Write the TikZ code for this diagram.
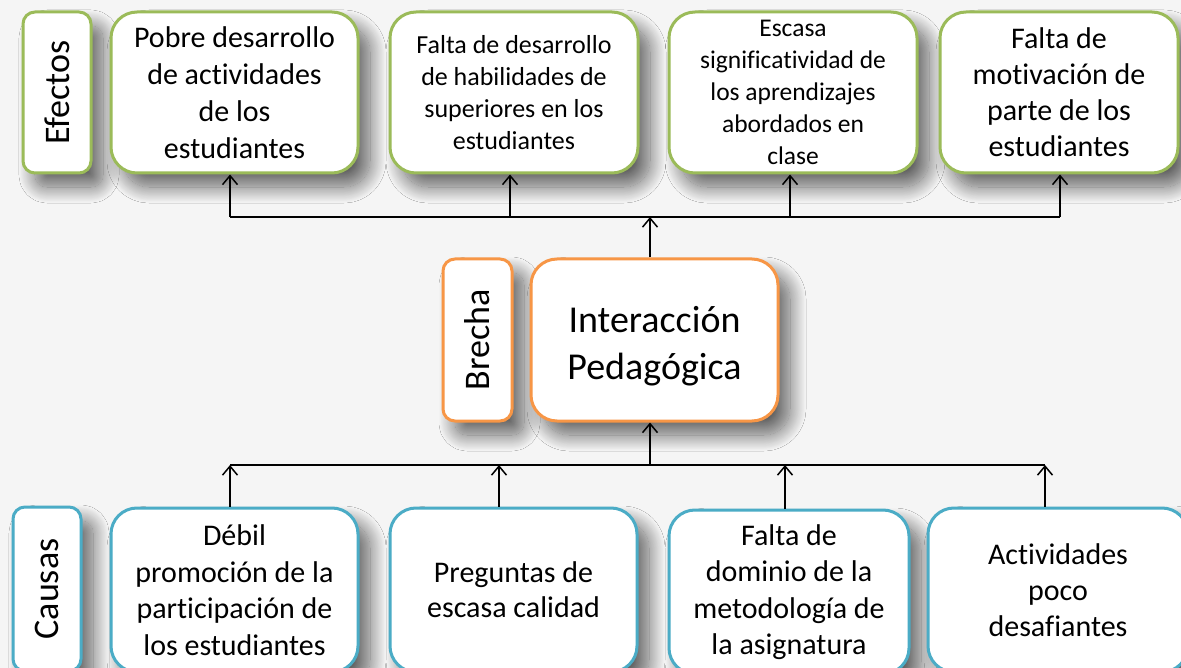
\documentclass[tikz,border=0pt]{standalone}
\usepackage{fontspec}
\setmainfont{Carlito}[Ligatures=NoCommon]
\usetikzlibrary{arrows.meta,shadows.blur}
\definecolor{efgreen}{HTML}{9BBB59}
\definecolor{brorange}{HTML}{F79646}
\definecolor{cablue}{HTML}{4BACC6}
\definecolor{bgray}{HTML}{F5F5F5}
\tikzset{
  box/.style={draw, line width=3pt, fill=white, rounded corners=26pt, align=center,
    inner sep=2pt, minimum width=247pt, minimum height=161pt,
    blur shadow={shadow xshift=12pt, shadow yshift=-14pt, shadow blur radius=16pt,
      shadow blur steps=24, shadow opacity=60}},
  tag/.style={box, rounded corners=12pt, minimum width=68pt, minimum height=161pt,
    font=\fontsize{36}{40}\selectfont},
  effect/.style={box, draw=efgreen},
  cause/.style={box, draw=cablue, minimum height=164pt},
  gap/.style={box, draw=brorange},
  conn/.style={line width=1.5pt, black},
  arr/.style={conn, -{Straight Barb[length=9pt, width=15pt, line width=1.5pt]}},
}
\begin{document}
\begin{tikzpicture}[x=1pt,y=-1pt]
\useasboundingbox (0,0) rectangle (1181,668);
\fill[bgray] (0,0) rectangle (1181,668);
\clip (0,0) rectangle (1181,668);
% Effects
\node[tag, draw=efgreen] (efectos) at (57,92.5) {\rotatebox{90}{Efectos}};
\node[effect, font=\fontsize{30}{37}\selectfont] (e1) at (234.5,92.5)
  {Pobre desarrollo\\de actividades\\de los\\estudiantes};
\node[effect, minimum width=248pt, font=\fontsize{26}{32}\selectfont] (e2) at (514,92.5)
  {Falta de desarrollo\\de habilidades de\\superiores en los\\estudiantes};
\node[effect, minimum width=248pt, font=\fontsize{25.5}{32}\selectfont] (e3) at (793,92.5)
  {Escasa\\significatividad de\\los aprendizajes\\abordados en\\clase};
\node[effect, minimum width=238pt, font=\fontsize{30}{36}\selectfont] (e4) at (1059,92.5)
  {Falta de\\motivación de\\parte de los\\estudiantes};
% Gap
\node[tag, draw=brorange, minimum width=69pt, minimum height=162pt] (brecha) at (477.5,340) {\rotatebox{90}{Brecha}};
\node[gap, minimum height=162pt, font=\fontsize{38}{47}\selectfont] (gapbox) at (654.5,340)
  {\raisebox{-7pt}[\height][\depth]{\begin{tabular}{@{}c@{}}Interacción\\Pedagógica\end{tabular}}};
% Causes
\node[tag, draw=cablue, minimum height=164pt] (causas) at (47,589) {\rotatebox{90}{Causas}};
\node[cause, font=\fontsize{30}{36.5}\selectfont] (c1) at (234.5,590)
  {Débil\\promoción de la\\participación de\\los estudiantes};
\node[cause, font=\fontsize{30}{35}\selectfont] (c2) at (513.5,590)
  {Preguntas de\\escasa calidad};
\node[cause, minimum width=240pt, font=\fontsize{30}{36.5}\selectfont] (c3) at (789,592)
  {Falta de\\dominio de la\\metodología de\\la asignatura};
\node[cause, minimum width=260pt, font=\fontsize{30}{36}\selectfont] (c4) at (1058,590)
  {Actividades\\poco\\desafiantes};
% Connectors top
\coordinate (tl) at (230,217);
\coordinate (tr) at (1060,217);
\draw[conn] (tl) -- (tr);
\draw[arr] (tl) -- (e1.south -| tl);
\draw[arr] (510,217) -- (e2.south -| 510,0);
\draw[arr] (790,217) -- (e3.south -| 790,0);
\draw[arr] (tr) -- (e4.south -| tr);
\draw[arr] (gapbox.north -| 650,0) -- (650,217);
% Connectors bottom
\coordinate (bl) at (230,465);
\coordinate (br) at (1045,465);
\draw[conn] (bl) -- (br);
\draw[arr] (650,465) -- (gapbox.south -| 650,0);
\draw[arr] (c1.north -| bl) -- (bl);
\draw[arr] (c2.north -| 499,0) -- (499,465);
\draw[arr] (c3.north -| 785,0) -- (785,465);
\draw[arr] (c4.north -| br) -- (br);
\end{tikzpicture}
\end{document}
